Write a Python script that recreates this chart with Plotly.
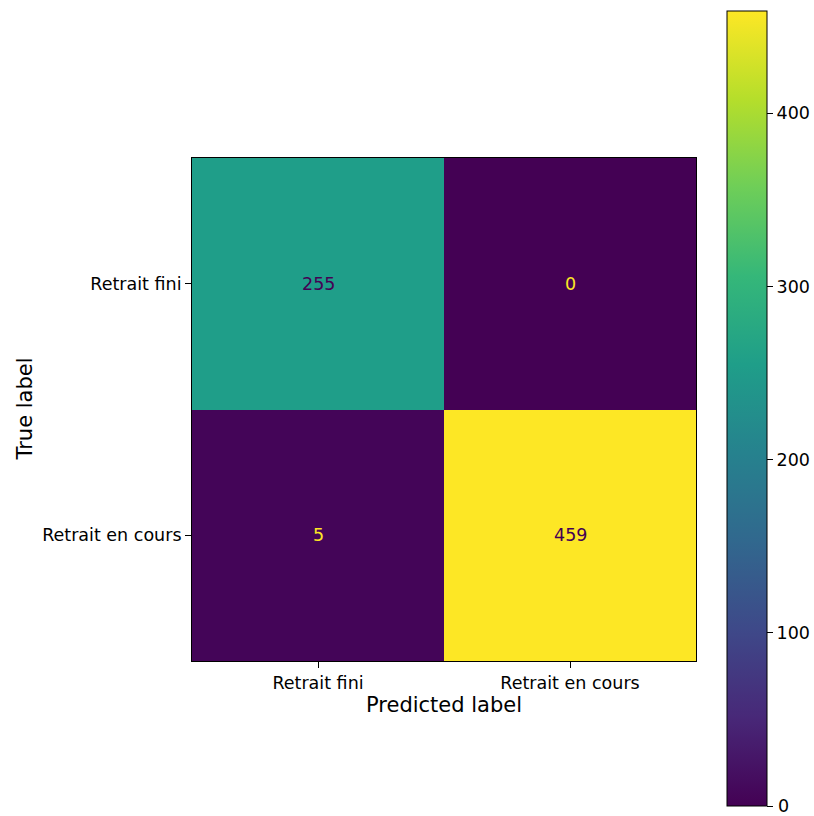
import plotly.graph_objects as go

labels = ["Retrait fini", "Retrait en cours"]
matrix = [[255, 0],
          [5, 459]]
cbar_ticks = [0, 100, 200, 300, 400]

W, H = 814, 816
x0, x1 = 192, 696
y0, y1 = 158, 661
cb_top, cb_bot = 11, 806
cb_left, cb_w = 727, 40
TICK = 17.5
LAB = 21

zmax = max(max(r) for r in matrix)
zmin = min(min(r) for r in matrix)

fig = go.Figure(go.Heatmap(
    z=matrix, x=[0, 1], y=[0, 1],
    colorscale="Viridis", zmin=zmin, zmax=zmax,
    colorbar=dict(
        thickness=cb_w, thicknessmode="pixels",
        len=(cb_bot - cb_top) / H, lenmode="fraction",
        x=cb_left / W, xanchor="left", xpad=0,
        y=1 - cb_top / H, yanchor="top", ypad=0,
        outlinewidth=1, outlinecolor="black",
        tickmode="array", tickvals=cbar_ticks, ticktext=[str(t) for t in cbar_ticks],
        ticks="outside", ticklen=6, tickcolor="black",
        tickfont=dict(family="DejaVu Sans", size=TICK, color="black"),
    ),
    hoverinfo="skip",
))

# colorbar labels that plotly drops at the bar's edge
for t in cbar_ticks:
    if t <= zmin:
        py = cb_bot - (t - zmin) / (zmax - zmin) * (cb_bot - cb_top)
        fig.add_annotation(text=str(t), xref="paper", yref="paper",
                           x=(cb_left + cb_w + 9) / W, y=1 - py / H,
                           xanchor="left", yanchor="middle", showarrow=False,
                           font=dict(family="DejaVu Sans", size=TICK, color="black"))

thr = (zmax + zmin) / 2
for i, row in enumerate(matrix):
    for j, v in enumerate(row):
        col = "#440154" if v > thr else "#fde725"
        fig.add_annotation(x=j, y=i, text=str(v), showarrow=False,
                           font=dict(family="DejaVu Sans", size=TICK, color=col))

fig.add_annotation(text="Predicted label", x=(x0 + x1) / 2 / W, y=1 - 705 / H,
                   xref="paper", yref="paper", showarrow=False,
                   xanchor="center", yanchor="middle",
                   font=dict(family="DejaVu Sans", size=LAB, color="black"))
fig.add_annotation(text="True label", x=24 / W, y=1 - (y0 + y1) / 2 / H,
                   xref="paper", yref="paper", showarrow=False, textangle=-90,
                   xanchor="center", yanchor="middle",
                   font=dict(family="DejaVu Sans", size=LAB, color="black"))

axis_common = dict(showgrid=False, zeroline=False, showline=True, linecolor="black",
                   linewidth=1, mirror=True, ticks="outside", ticklen=6, tickcolor="black",
                   tickfont=dict(family="DejaVu Sans", size=TICK, color="black"))

fig.update_layout(
    width=W, height=H, margin=dict(l=0, r=0, t=0, b=0),
    paper_bgcolor="white", plot_bgcolor="white",
    xaxis=dict(domain=[x0 / W, x1 / W], range=[-0.5, 1.5], tickvals=[0, 1],
               ticktext=labels, **axis_common),
    yaxis=dict(domain=[1 - y1 / H, 1 - y0 / H], range=[1.5, -0.5], tickvals=[0, 1],
               ticktext=labels, **axis_common),
)

fig.write_html("out.html", config={"displayModeBar": False},
               post_script="document.body.style.margin='0';document.body.style.overflow='hidden';")
